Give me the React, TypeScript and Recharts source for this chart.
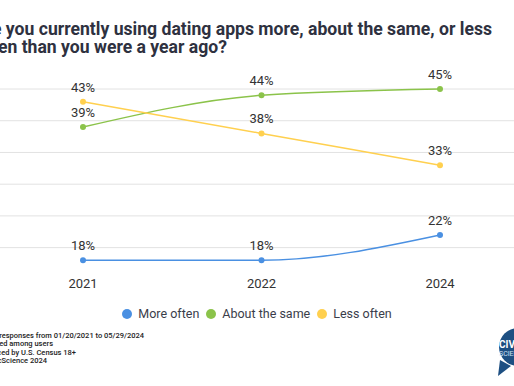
import React from "react";
import {
  LineChart,
  Line,
  XAxis,
  YAxis,
  CartesianGrid,
  Legend,
  LabelList,
} from "recharts";

const years = ["2021", "2022", "2024"];
const moreOften = [18, 18, 22];
const aboutSame = [39, 44, 45];
const lessOften = [43, 38, 33];
const yTicks = [20, 25, 30, 35, 40, 45];

const titleLines = [
  "Are you currently using dating apps more, about the same, or less",
  "often than you were a year ago?",
];
const footnotes = [
  "Based on responses from 01/20/2021 to 05/29/2024",
  "Weighted among users",
  "Balanced by U.S. Census 18+",
  "© CivicScience 2024",
];

const series = [
  { key: "more", name: "More often", color: "#4a90e2" },
  { key: "same", name: "About the same", color: "#8bc34a" },
  { key: "less", name: "Less often", color: "#ffd04f" },
];

const data = years.map((year, i) => ({
  year,
  more: moreOften[i],
  same: aboutSame[i],
  less: lessOften[i],
}));

const font = "Roboto, 'Noto Sans', sans-serif";
const ink = "#333";

function LegendRow() {
  return (
    <div
      style={{
        display: "flex",
        justifyContent: "center",
        gap: 7,
        fontFamily: font,
        fontSize: 12.5,
        color: "#3a3d4a",
        lineHeight: "16px",
      }}
    >
      {series.map((s) => (
        <div key={s.key} style={{ display: "flex", alignItems: "center", gap: 6 }}>
          <span
            style={{
              width: 10,
              height: 10,
              borderRadius: "50%",
              background: s.color,
              display: "inline-block",
            }}
          />
          <span>{s.name}</span>
        </div>
      ))}
    </div>
  );
}

export default function App() {
  return (
    <div
      style={{
        position: "absolute",
        left: 0,
        top: 0,
        width: 514,
        height: 386,
        background: "#fff",
        overflow: "hidden",
      }}
    >
      <LineChart
        width={514}
        height={386}
        data={data}
        margin={{ top: 89, right: 0, bottom: 0, left: 0 }}
      >
        <CartesianGrid vertical={false} stroke="#e2e2e2" syncWithTicks />
        <XAxis
          dataKey="year"
          axisLine={false}
          tickLine={false}
          tickSize={0}
          tickMargin={6}
          height={113}
          padding={{ left: 83, right: 74 }}
          tick={{ fontSize: 13, fill: ink, fontFamily: font }}
        />
        <YAxis hide domain={[16, 45]} ticks={yTicks} />
        <Legend
          layout="horizontal"
          align="center"
          verticalAlign="middle"
          wrapperStyle={{ top: 306, left: 0, width: 514 }}
          content={() => <LegendRow />}
        />
        {series.map((s) => (
          <Line
            key={s.key}
            type="monotone"
            dataKey={s.key}
            name={s.name}
            stroke={s.color}
            strokeWidth={1.5}
            dot={{ r: 3, fill: s.color, stroke: s.color, strokeWidth: 0 }}
            isAnimationActive={false}
          >
            <LabelList
              dataKey={s.key}
              position="top"
              offset={10}
              formatter={(v: any) => `${v}%`}
              style={{ fontSize: 13, fill: ink, fontFamily: font }}
            />
          </Line>
        ))}
      </LineChart>
      <svg
        width={514}
        height={386}
        style={{ position: "absolute", left: 0, top: 0, pointerEvents: "none" }}
      >
        <g fontFamily={font} fontWeight={700} fontSize={17.6} fill="#2e3140">
          <text x={492} y={35} textAnchor="end">
            {titleLines[0]}
          </text>
          <text x={227} y={53} textAnchor="end">
            {titleLines[1]}
          </text>
        </g>
        <g fontFamily={font} fontWeight={500} fontSize={7.5} fill="#222">
          {footnotes.map((t, i) => (
            <text key={i} x={[144, 53, 76, 47][i]} y={338 + i * 8.3} textAnchor="end">
              {t}
            </text>
          ))}
        </g>
        <g>
          <path d="M500 360 L498 376 L511 366 Z" fill="#1d4f82" />
          <circle cx={518} cy={347} r={19} fill="#1d4f82" />
          <text x={499} y={348} fill="#fff" fontFamily={font} fontWeight={700} fontSize={10}>
            CIVIC
          </text>
          <text x={499} y={356} fill="#cfe0f2" fontFamily={font} fontSize={7}>
            SCIENCE
          </text>
        </g>
      </svg>
    </div>
  );
}
